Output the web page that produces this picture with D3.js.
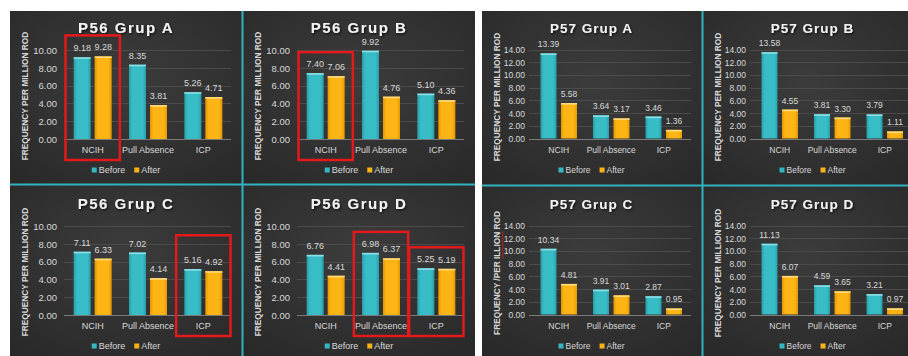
<!DOCTYPE html>
<html><head><meta charset="utf-8">
<script src="https://cdn.jsdelivr.net/npm/d3@7"></script>
<style>
html,body{margin:0;padding:0;background:#ffffff;}
svg{display:block;font-family:"Liberation Sans",Arial,Helvetica,sans-serif;}
</style></head><body>
<svg id="c" width="908" height="356"></svg>
<script>
// ---------- DATA ----------
const categories = ["NCIH", "Pull Absence", "ICP"];
const seriesNames = ["Before", "After"];

const p56Titles = ["P56 Grup A", "P56 Grup B", "P56 Grup C", "P56 Grup D"];
const p56Before = [[9.18, 8.35, 5.26], [7.40, 9.92, 5.10], [7.11, 7.02, 5.16], [6.76, 6.98, 5.25]];
const p56After  = [[9.28, 3.81, 4.71], [7.06, 4.76, 4.36], [6.33, 4.14, 4.92], [4.41, 6.37, 5.19]];
const p56Ticks  = [0, 2, 4, 6, 8, 10];
const p56YTitles = ["FREQUENCY PER MILLION ROD", "FREQUENCY PER MILLION ROD", "FREQUENCY PER MILLION ROD", "FREQUENCY PER MILLION ROD"];
const p56Highlights = [
  { chart: 0, category: "NCIH" },
  { chart: 1, category: "NCIH" },
  { chart: 2, category: "ICP", reach: 6.6 },
  { chart: 3, category: "Pull Absence" },
  { chart: 3, category: "ICP" }
];

const p57Titles = ["P57 Grup A", "P57 Grup B", "P57 Grup C", "P57 Grup D"];
const p57Before = [[13.39, 3.64, 3.46], [13.58, 3.81, 3.79], [10.34, 3.91, 2.87], [11.13, 4.59, 3.21]];
const p57After  = [[5.58, 3.17, 1.36], [4.55, 3.30, 1.11], [4.81, 3.01, 0.95], [6.07, 3.65, 0.97]];
const p57Ticks  = [0, 2, 4, 6, 8, 10, 12, 14];
const p57YTitles = ["FREQUENCY PER MILLION ROD", "FREQUENCY PER MILLION ROD", "FREQUENCY /PER ILLION ROD", "FREQUENCY PER MILLION ROD"];
const p57Highlights = [];
const p57Misspelled = { chart: 2, word: "ILLION" };

// ---------- STYLE / LAYOUT ----------
const TEXT = "#d9d9d9";
const svg = d3.select("#c");
const defs = svg.append("defs");

function hGrad(id, edge, mid) {
  const g = defs.append("linearGradient").attr("id", id)
    .attr("x1", 0).attr("x2", 1).attr("y1", 0).attr("y2", 0);
  [[0, edge], [0.2, mid], [0.8, mid], [1, edge]].forEach(([o, c]) =>
    g.append("stop").attr("offset", o).attr("stop-color", c));
}
hGrad("gTeal", "#279fa9", "#38bdc7");
hGrad("gOrange", "#e59700", "#fdb515");
const rg = defs.append("radialGradient").attr("id", "bgGrad")
  .attr("cx", "50%").attr("cy", "40%").attr("r", "75%");
rg.append("stop").attr("offset", 0).attr("stop-color", "#3c3c3c");
rg.append("stop").attr("offset", 1).attr("stop-color", "#292929");
const f = defs.append("filter").attr("id", "tshadow")
  .attr("x", "-10%").attr("y", "-30%").attr("width", "130%").attr("height", "170%");
f.append("feDropShadow").attr("dx", 1).attr("dy", 1.2).attr("stdDeviation", 0.9)
  .attr("flood-color", "#000").attr("flood-opacity", 0.75);

const seriesFill = ["url(#gTeal)", "url(#gOrange)"];
const seriesTop = ["#8fe0e6", "#ffdc80"];
const seriesLegend = ["#33b8c2", "#fbb416"];

const panels = [
  {
    titles: p56Titles, before: p56Before, after: p56After, ticks: p56Ticks,
    yTitles: p56YTitles, highlights: p56Highlights, misspelled: null,
    frame: { x0: 10, x1: 475, y0: 11, y1: 356, vx: 242.5, hy: 184.5 },
    colX: [10, 243], rowY: [11, 187],
    L: { yTitleX: 15, yTitleY: 85, tickRight: 47, gridX0: 54, gridX1: 221, bandX0: 55, bandX1: 221,
         plotTop: 39, plotBottom: 128, titleY: 17, titleCx: 116, catY: 139, legendY: 159,
         barW: 17, barGap: 4, titleSize: 15, titleLS: 1.5, font: 9, tickFont: 9.5, yTitleFont: 8.3 }
  },
  {
    titles: p57Titles, before: p57Before, after: p57After, ticks: p57Ticks,
    yTitles: p57YTitles, highlights: p57Highlights, misspelled: p57Misspelled,
    frame: { x0: 482, x1: 908, y0: 11, y1: 356, vx: 702.5, hy: 185.5 },
    colX: [482, 703], rowY: [11, 187],
    L: { yTitleX: 15, yTitleY: 86, tickRight: 43, gridX0: 47, gridX1: 209, bandX0: 50.5, bandX1: 208,
         plotTop: 38.5, plotBottom: 127.5, titleY: 17, titleCx: 109.5, catY: 139, legendY: 159,
         barW: 16, barGap: 4.5, titleSize: 13.5, titleLS: 1, font: 8.5, tickFont: 8.5, yTitleFont: 8.3 }
  }
];

panels.forEach(P => {
  const F = P.frame, L = P.L;
  const pg = svg.append("g");
  // cell backgrounds
  const colR = [[F.x0, F.vx], [F.vx, F.x1]];
  const rowR = [[F.y0, F.hy], [F.hy, F.y1]];
  pg.append("rect").attr("x", F.x0).attr("y", F.y0).attr("width", F.x1 - F.x0)
    .attr("height", F.y1 - F.y0).attr("fill", "#2e2e2e");
  rowR.forEach(r => colR.forEach(c => {
    pg.append("rect").attr("x", c[0]).attr("y", r[0]).attr("width", c[1] - c[0])
      .attr("height", r[1] - r[0]).attr("fill", "url(#bgGrad)");
  }));

  const yMax = d3.max(P.ticks);
  const y = d3.scaleLinear().domain([0, yMax]).range([L.plotBottom, L.plotTop]);
  const x = d3.scaleBand().domain(categories).range([L.bandX0, L.bandX1]).padding(0);

  P.titles.forEach((title, ci) => {
    const col = ci % 2, row = Math.floor(ci / 2);
    const g = pg.append("g").attr("transform", `translate(${P.colX[col]},${P.rowY[row]})`);

    // gridlines
    g.append("g").selectAll("line").data(P.ticks).join("line")
      .attr("x1", L.gridX0).attr("x2", L.gridX1)
      .attr("y1", d => Math.round(y(d)) + 0.5).attr("y2", d => Math.round(y(d)) + 0.5)
      .attr("stroke", d => d === 0 ? "#7a7a7a" : "#4b4b4b").attr("stroke-width", 1);

    // y axis labels
    const ya = g.append("g").attr("transform", `translate(${L.tickRight},0)`)
      .call(d3.axisLeft(y).tickValues(P.ticks).tickFormat(d3.format(".2f")).tickSize(0).tickPadding(0));
    ya.select(".domain").remove();
    ya.selectAll("text").attr("fill", TEXT).attr("font-size", L.tickFont)
      .attr("font-family", "Liberation Sans, Arial, sans-serif").attr("dy", "0.35em");

    // x axis labels
    const xa = g.append("g").attr("transform", `translate(0,${L.catY})`)
      .call(d3.axisBottom(x).tickSize(0).tickPadding(0));
    xa.select(".domain").remove();
    xa.selectAll("text").attr("fill", TEXT).attr("font-size", L.font)
      .attr("font-family", "Liberation Sans, Arial, sans-serif").attr("y", 0).attr("dy", "0.35em");

    // bars
    const inner = d3.scaleBand().domain(seriesNames)
      .range([0, 2 * L.barW + L.barGap]).paddingInner(L.barGap / (L.barW + L.barGap)).paddingOuter(0);
    const groupOff = (x.bandwidth() - (2 * L.barW + L.barGap)) / 2;
    const rows = categories.map((c, k) => ({ c, vals: [P.before[ci][k], P.after[ci][k]] }));
    rows.forEach(r => {
      r.vals.forEach((v, si) => {
        const bx = x(r.c) + groupOff + inner(seriesNames[si]);
        const by = y(v);
        g.append("rect").attr("x", bx).attr("y", by).attr("width", inner.bandwidth())
          .attr("height", y(0) - by).attr("fill", seriesFill[si]);
        g.append("rect").attr("x", bx).attr("y", by).attr("width", inner.bandwidth())
          .attr("height", 1.6).attr("fill", seriesTop[si]);
        g.append("text").attr("x", bx + inner.bandwidth() / 2).attr("y", by - 6)
          .attr("text-anchor", "middle").attr("fill", TEXT).attr("font-size", L.font)
          .text(d3.format(".2f")(v));
      });
    });

    // title
    g.append("text").attr("x", L.titleCx).attr("y", L.titleY).attr("dy", "0.35em")
      .attr("text-anchor", "middle").attr("font-weight", "bold").attr("font-size", L.titleSize)
      .attr("letter-spacing", L.titleLS).attr("fill", "#f2f2f2").attr("filter", "url(#tshadow)")
      .text(title);

    // y axis title
    const yt = g.append("g").attr("transform", `translate(${L.yTitleX},${L.yTitleY}) rotate(-90)`);
    const ytText = yt.append("text").attr("x", 0).attr("y", 0).attr("dy", "0.35em")
      .attr("text-anchor", "middle").attr("font-weight", "bold").attr("font-size", L.yTitleFont)
      .attr("fill", TEXT).text(P.yTitles[ci]);
    if (P.misspelled && P.misspelled.chart === ci) {
      const s = P.yTitles[ci];
      const i0 = s.indexOf(P.misspelled.word), i1 = i0 + P.misspelled.word.length - 1;
      const node = ytText.node();
      const a = node.getStartPositionOfChar(i0).x, b = node.getEndPositionOfChar(i1).x;
      const yy = L.yTitleFont * 0.35 + 2.2;
      let d = `M${a},${yy}`;
      for (let xx = a, k = 0; xx < b; xx += 1.5, k++) d += `L${Math.min(xx + 1.5, b)},${yy + (k % 2 ? 0 : 1.1)}`;
      yt.append("path").attr("d", d).attr("fill", "none").attr("stroke", "#e02020").attr("stroke-width", 0.8);
    }

    // legend
    const lg = g.append("g");
    let cx = 0;
    seriesNames.forEach((s, si) => {
      lg.append("rect").attr("x", cx).attr("y", -2.5).attr("width", 5).attr("height", 5)
        .attr("fill", seriesLegend[si]);
      const t = lg.append("text").attr("x", cx + 7).attr("y", 0).attr("dy", "0.35em")
        .attr("fill", TEXT).attr("font-size", L.font).text(s);
      cx += 7 + t.node().getComputedTextLength() + 9;
    });
    const lw = cx - 9;
    lg.attr("transform", `translate(${L.titleCx - lw / 2},${L.legendY})`);

    // highlight boxes
    P.highlights.filter(h => h.chart === ci).forEach(h => {
      const k = categories.indexOf(h.category);
      const top = h.reach !== undefined ? h.reach : Math.max(P.before[ci][k], P.after[ci][k]);
      const x0 = x(h.category) + 0.5, x1 = x(h.category) + x.bandwidth() - 0.5;
      const y0 = y(top) - 21, y1 = L.plotBottom + 21;
      g.append("rect").attr("x", x0).attr("y", y0).attr("width", x1 - x0).attr("height", y1 - y0)
        .attr("fill", "none").attr("stroke", "#e3191b").attr("stroke-width", 2.5);
    });
  });

  // divider lines
  pg.append("line").attr("x1", F.vx).attr("x2", F.vx).attr("y1", F.y0).attr("y2", F.y1)
    .attr("stroke", "#31b3bf").attr("stroke-width", 2);
  pg.append("line").attr("x1", F.x0).attr("x2", F.x1).attr("y1", F.hy).attr("y2", F.hy)
    .attr("stroke", "#31b3bf").attr("stroke-width", 2);
});
</script>
</body></html>
